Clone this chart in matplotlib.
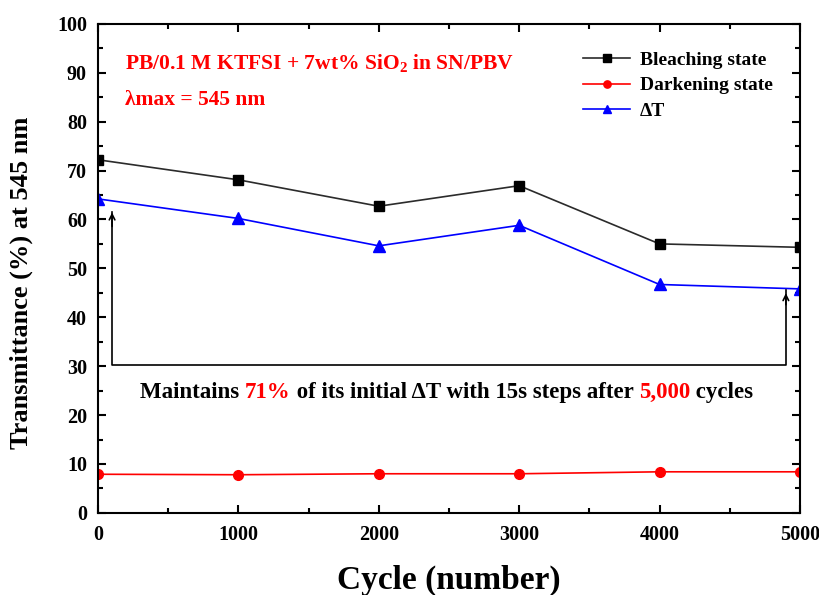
import numpy as np
import matplotlib
matplotlib.use("Agg")
import matplotlib.pyplot as plt
from matplotlib.ticker import MultipleLocator
from matplotlib import transforms

plt.rcParams['font.family'] = ['Liberation Serif', 'DejaVu Serif']
plt.rcParams['font.weight'] = 'bold'
plt.rcParams['mathtext.fontset'] = 'custom'
plt.rcParams['mathtext.rm'] = 'Liberation Serif:bold'
plt.rcParams['mathtext.it'] = 'Liberation Serif:bold'
plt.rcParams['mathtext.bf'] = 'Liberation Serif:bold'

# cycling data, transmittance at 545 nm
cycles = [0, 1000, 2000, 3000, 4000, 5000]
bleaching = [72.2, 68.1, 62.7, 66.9, 55.0, 54.3]
darkening = [7.9, 7.8, 8.0, 8.0, 8.4, 8.4]
delta_t = [64.2, 60.2, 54.6, 58.8, 46.7, 45.8]

fig = plt.figure(figsize=(8.19, 5.95), dpi=100)
ax = fig.add_axes([0.1197, 0.138, 0.857, 0.822])

ax.plot(cycles, bleaching, '-s', color='#2b2b2b', mfc='black', mec='black', ms=7, lw=1.2, label='Bleaching state')
ax.plot(cycles, darkening, '-o', color='red', ms=7, lw=1.2, label='Darkening state')
ax.plot(cycles, delta_t, '-^', color='blue', ms=8, lw=1.2, label='ΔT')

ax.set_xlim(0, 5000)
ax.set_ylim(0, 100)
ax.xaxis.set_major_locator(MultipleLocator(1000))
ax.xaxis.set_minor_locator(MultipleLocator(500))
ax.yaxis.set_major_locator(MultipleLocator(10))
ax.yaxis.set_minor_locator(MultipleLocator(5))
ax.tick_params(which='both', direction='in', top=True, right=True, width=1.5)
ax.tick_params(which='major', length=6, labelsize=14.5)
ax.tick_params(axis='x', which='major', pad=9)
ax.tick_params(axis='y', which='major', pad=8)
ax.tick_params(which='minor', length=3.5)
for s in ax.spines.values():
    s.set_linewidth(1.5)

ax.set_xlabel('Cycle (number)', fontsize=24, fontweight='bold', labelpad=14)
ax.set_ylabel('Transmittance (%) at 545 nm', fontsize=19, fontweight='bold')
ax.yaxis.set_label_coords(-0.092, 0.47)

ax.text(190, 92.0, 'PB/0.1 M KTFSI + 7wt% SiO$_2$ in SN/PBV', color='red', fontsize=15.5,
        fontweight='bold', va='center')
ax.text(190, 84.5, 'λmax = 545 nm', color='red', fontsize=15.5, fontweight='bold', va='center')

leg = ax.legend(loc='upper right', frameon=False, fontsize=14, handlelength=2.4,
                borderaxespad=1.0, labelspacing=0.42, handletextpad=0.5, markerscale=0.75,
                borderpad=0.4)

# bracket with arrows from the first and last ΔT points
ax.plot([100, 100, 4900, 4900], [61.5, 30.3, 30.3, 45.5], color='black', lw=1.2)
ax.annotate('', xy=(100, 62.0), xytext=(100, 58), arrowprops=dict(arrowstyle='->', color='black', lw=1.2))
ax.annotate('', xy=(4900, 45.5), xytext=(4900, 42), arrowprops=dict(arrowstyle='->', color='black', lw=1.2))

# multi-coloured caption, pieces laid out left to right
pieces = [('Maintains ', 'black'), ('71%', 'red'), (' of its initial ΔT with 15s steps after ', 'black'),
          ('5,000', 'red'), (' cycles', 'black')]
fig.canvas.draw()
renderer = fig.canvas.get_renderer()
trans = ax.transData
x0 = 300
for txt, col in pieces:
    t = ax.text(x0, 24.6, txt, color=col, fontsize=16.5, fontweight='bold', va='center',
                transform=trans)
    bb = t.get_window_extent(renderer=renderer)
    trans = transforms.offset_copy(t.get_transform(), fig=fig, x=bb.width, units='dots')

fig.savefig('out.png', dpi=100)
